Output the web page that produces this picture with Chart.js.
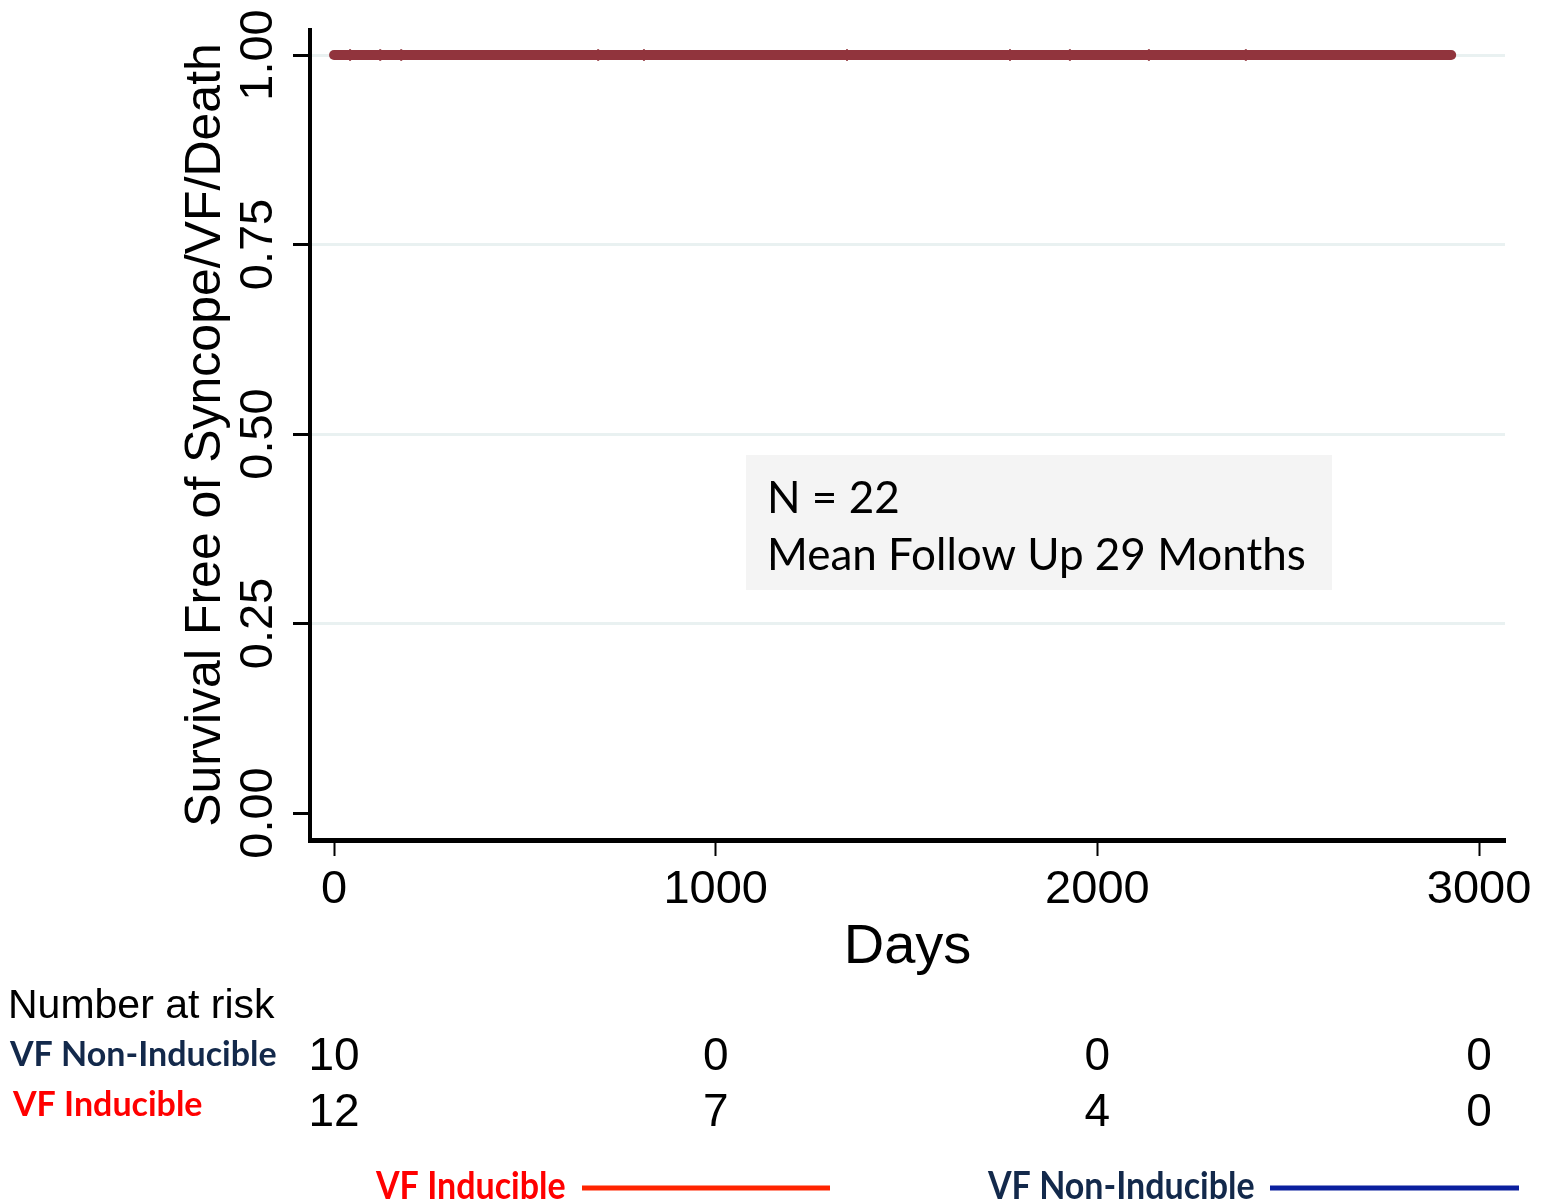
<!DOCTYPE html>
<html>
<head>
<meta charset="utf-8">
<script src="https://cdn.jsdelivr.net/npm/chart.js@4.4.1/dist/chart.umd.min.js"></script>
<style>
  html, body { margin: 0; padding: 0; background: #ffffff; }
  #wrap { width: 1550px; height: 1200px; position: relative; }
</style>
</head>
<body>
<div id="wrap"><canvas id="c" width="1550" height="1200"></canvas></div>
<script>
// ---- data ----
const curveDays = [0, 2927];
const curveSurvival = [1, 1];
const censorDays = [42, 121, 176, 692, 812, 1344, 1771, 1928, 2135, 2389];
const censorSurvival = [1, 1, 1, 1, 1, 1, 1, 1, 1, 1];
const xTicks = [0, 1000, 2000, 3000];
const yTicks = [0, 0.25, 0.5, 0.75, 1];
const yTickLabels = ['0.00', '0.25', '0.50', '0.75', '1.00'];
const riskTimes = [0, 1000, 2000, 3000];
const riskNonInducible = [10, 0, 0, 0];
const riskInducible = [12, 7, 4, 0];
const groupNames = ['VF Non-Inducible', 'VF Inducible'];
const xTitle = 'Days';
const yTitle = 'Survival Free of Syncope/VF/Death';
const noteLines = ['N = 22', 'Mean Follow Up 29 Months'];

const SANS = '"Liberation Sans", Arial, Helvetica, sans-serif';
const CAL = 'Lato, "Open Sans", sans-serif';

const textPlugin = {
  id: 'texts',
  afterDraw(chart) {
    const ctx = chart.ctx;
    const xs = chart.scales.x, ys = chart.scales.y;
    ctx.save();
    ctx.fillStyle = '#000';
    // y tick labels (rotated)
    ctx.font = '47px ' + SANS;
    yTicks.forEach((v, i) => {
      const py = ys.getPixelForValue(v);
      ctx.save();
      ctx.translate(272, py);
      ctx.rotate(-Math.PI / 2);
      ctx.textAlign = 'center';
      ctx.textBaseline = 'alphabetic';
      ctx.fillText(yTickLabels[i], 0, 0);
      ctx.restore();
    });
    // y title
    ctx.save();
    ctx.font = '50px ' + SANS;
    ctx.translate(220, (chart.chartArea.top + chart.chartArea.bottom) / 2);
    ctx.rotate(-Math.PI / 2);
    ctx.textAlign = 'center';
    ctx.fillText(yTitle, 0, 0);
    ctx.restore();
    // x tick labels
    ctx.font = '47px ' + SANS;
    ctx.textAlign = 'center';
    ctx.textBaseline = 'alphabetic';
    xTicks.forEach(v => ctx.fillText(String(v), xs.getPixelForValue(v), 903));
    // x title
    ctx.font = '56px ' + SANS;
    ctx.fillText(xTitle, (chart.chartArea.left + chart.chartArea.right) / 2, 963);

    // annotation box
    ctx.fillStyle = '#f4f4f4';
    ctx.fillRect(746, 455, 586, 135);
    ctx.fillStyle = '#000';
    ctx.textAlign = 'left';
    ctx.font = '44px ' + CAL;
    ctx.fillText(noteLines[0], 767, 513);
    ctx.fillText(noteLines[1], 767, 570);

    // number at risk
    ctx.font = '41px ' + SANS;
    ctx.fillText('Number at risk', 8, 1018);
    ctx.font = 'bold 34px ' + CAL;
    ctx.fillStyle = '#13294b';
    ctx.fillText(groupNames[0], 10, 1066);
    ctx.fillStyle = '#ff0000';
    ctx.fillText(groupNames[1], 13, 1116);
    ctx.fillStyle = '#000';
    ctx.font = '46px ' + SANS;
    ctx.textAlign = 'center';
    riskTimes.forEach((t, i) => {
      const px = xs.getPixelForValue(t);
      ctx.fillText(String(riskNonInducible[i]), px, 1070);
      ctx.fillText(String(riskInducible[i]), px, 1126);
    });

    // bottom legend
    ctx.textAlign = 'left';
    ctx.font = 'bold 38px ' + CAL;
    ctx.save();
    ctx.translate(376, 1199);
    ctx.scale(0.895, 1);
    ctx.fillStyle = '#ff0000';
    ctx.fillText(groupNames[1], 0, 0);
    ctx.restore();
    ctx.save();
    ctx.translate(988, 1199);
    ctx.scale(0.895, 1);
    ctx.fillStyle = '#13294b';
    ctx.fillText(groupNames[0], 0, 0);
    ctx.restore();
    ctx.lineWidth = 5;
    ctx.strokeStyle = '#ff2400';
    ctx.beginPath(); ctx.moveTo(582, 1188); ctx.lineTo(830, 1188); ctx.stroke();
    ctx.strokeStyle = '#0a1f9e';
    ctx.beginPath(); ctx.moveTo(1270, 1188); ctx.lineTo(1519, 1188); ctx.stroke();
    ctx.restore();
  }
};

new Chart(document.getElementById('c'), {
  type: 'scatter',
  data: {
    datasets: [
      {
        data: curveDays.map((d, i) => ({ x: d, y: curveSurvival[i] })),
        showLine: true,
        stepped: true,
        borderColor: '#91343d',
        borderWidth: 10,
        borderCapStyle: 'round',
        pointRadius: 0
      },
      {
        data: censorDays.map((d, i) => ({ x: d, y: censorSurvival[i] })),
        showLine: false,
        pointStyle: 'line',
        rotation: 90,
        pointRadius: 5.8,
        borderWidth: 2,
        borderColor: '#91343d',
        backgroundColor: '#91343d'
      }
    ]
  },
  options: {
    responsive: false,
    animation: false,
    devicePixelRatio: 1,
    layout: { padding: { left: 0, top: 30, right: 45, bottom: 340 } },
    plugins: { legend: { display: false }, tooltip: { enabled: false } },
    scales: {
      x: {
        type: 'linear',
        min: -63,
        max: 3068,
        afterBuildTicks: s => { s.ticks = xTicks.map(v => ({ value: v })); },
        afterFit: s => { s.height = 20; },
        ticks: { display: false },
        grid: { drawOnChartArea: false, drawTicks: true, tickLength: 16, tickColor: '#000', tickWidth: 2 },
        border: { color: '#000', width: 5 }
      },
      y: {
        type: 'linear',
        min: -0.0356,
        max: 1.033,
        afterBuildTicks: s => { s.ticks = yTicks.map(v => ({ value: v })); },
        afterFit: s => { s.width = 310; },
        ticks: { display: false },
        grid: {
          color: c => (c.tick && c.tick.value === 0) ? 'rgba(0,0,0,0)' : '#e9f1f1',
          lineWidth: 3,
          tickColor: '#000',
          tickWidth: 3,
          tickLength: 17
        },
        border: { color: '#000', width: 4 }
      }
    }
  },
  plugins: [textPlugin]
});
</script>
</body>
</html>
